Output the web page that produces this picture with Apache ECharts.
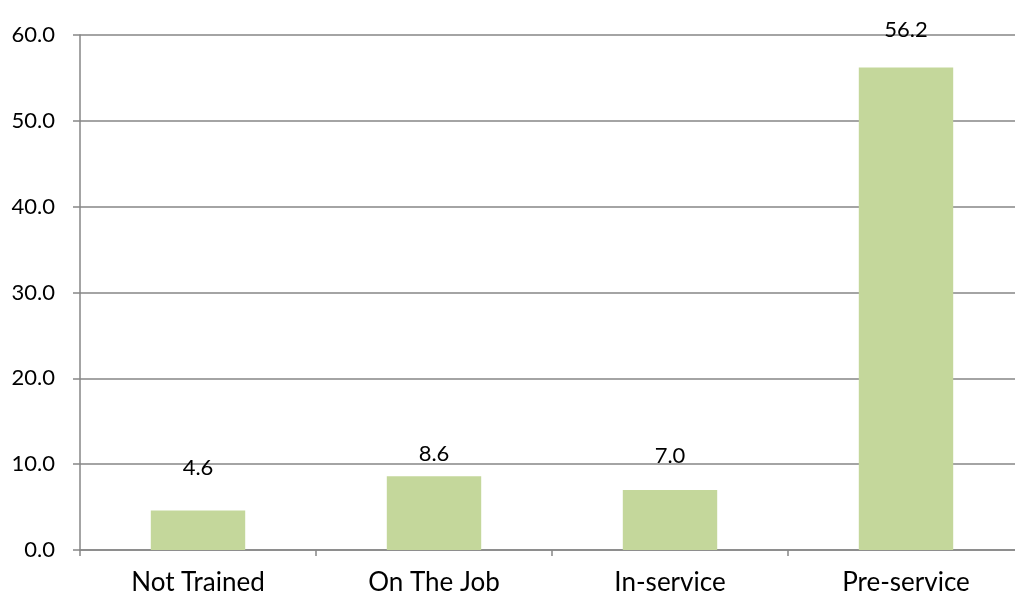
<!DOCTYPE html>
<html>
<head>
<meta charset="utf-8">
<script src="https://cdn.jsdelivr.net/npm/echarts@6/dist/echarts.min.js"></script>
<style>html,body{margin:0;padding:0;background:#fff;overflow:hidden;width:1015px;height:597px}#c{width:1040px;height:597px}</style>
</head>
<body>
<div id="c"></div>
<script>
const categories = ["Not Trained", "On The Job", "In-service", "Pre-service"];
const values = [4.6, 8.6, 7.0, 56.2];
const yTicks = [0, 10, 20, 30, 40, 50, 60];

// label gap above each bar (style only)
const labelGaps = [32, 11, 23, 27];

const FONT = 'Lato';
const chart = echarts.init(document.getElementById('c'), null, {renderer: 'canvas'});
chart.setOption({
  animation: false,
  backgroundColor: '#fff',
  grid: {left: 80, right: 16, top: 35, bottom: 47, containLabel: false},
  xAxis: {
    type: 'category',
    data: categories,
    axisLine: {show: true, lineStyle: {color: '#868686', width: 1.5}},
    axisTick: {show: true, alignWithLabel: false, length: 6, lineStyle: {color: '#868686', width: 1.5}},
    axisLabel: {color: '#000', fontFamily: FONT, fontSize: 26, margin: 20}
  },
  yAxis: {
    type: 'value',
    min: yTicks[0],
    max: yTicks[yTicks.length - 1],
    interval: 10,
    axisLine: {show: true, lineStyle: {color: '#868686', width: 1.5}},
    axisTick: {show: true, length: 7, lineStyle: {color: '#868686', width: 1.5}},
    splitLine: {show: true, lineStyle: {color: '#868686', width: 1.5}},
    axisLabel: {color: '#000', fontFamily: FONT, fontSize: 22, margin: 25,
      formatter: v => v.toFixed(1)}
  },
  series: [{
    type: 'bar',
    barWidth: '40%',
    itemStyle: {color: '#C4D79B'},
    data: values.map((v, i) => ({
      value: v,
      label: {show: true, position: 'top', distance: labelGaps[i]}
    })),
    label: {show: true, position: 'top', color: '#000', fontFamily: FONT, fontSize: 22,
      formatter: p => p.value.toFixed(1)}
  }]
});
</script>
</body>
</html>
